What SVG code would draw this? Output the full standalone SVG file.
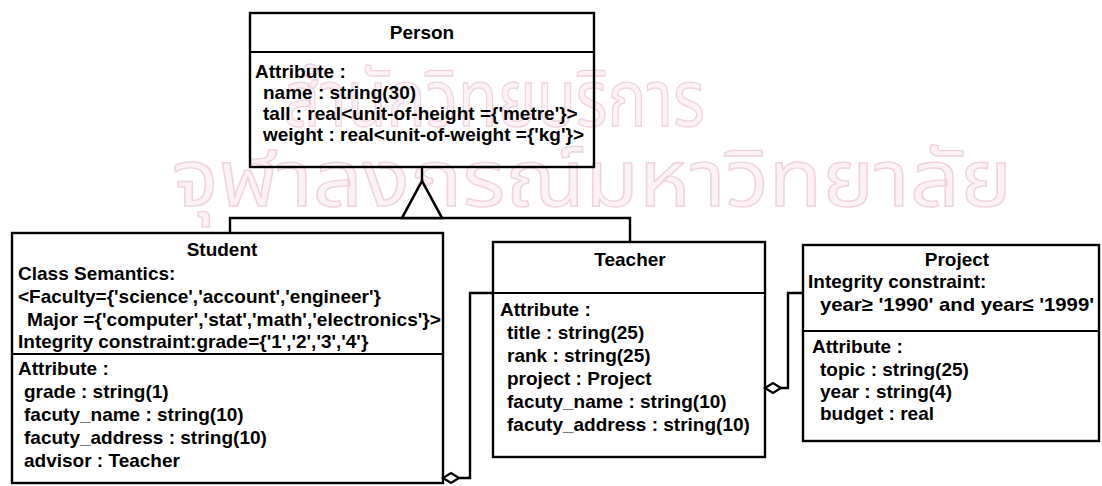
<svg xmlns="http://www.w3.org/2000/svg" width="1102" height="486" viewBox="0 0 1102 486">
  <style>
    .box { fill: none; stroke: #000000; stroke-width: 2.4; }
    .div { stroke: #000000; stroke-width: 2.2; fill: none; }
    .t { font-family: "Liberation Sans", Arial, sans-serif; font-weight: bold; font-size: 19px; fill: #000000; }
    .c { text-anchor: middle; }
    .wire { fill: none; stroke: #000000; stroke-width: 2.4; stroke-linejoin: miter; }
    .tri { fill: #ffffff; stroke: #000000; stroke-width: 2.6; stroke-linejoin: miter; }
    .dia { fill: #ffffff; stroke: #000000; stroke-width: 2.2; }
    .wm { font-family: "Noto Sans Thai", "Noto Sans", "DejaVu Sans", sans-serif; font-size: 78px; fill: #fcf2f6; stroke: #efd3df; stroke-width: 1.4; }
  </style>

  <rect x="0" y="0" width="1102" height="486" fill="#ffffff"/>

  <!-- library watermark, drawn underneath everything -->
  <g id="watermark">
    <text class="wm" x="283" y="126" textLength="422" lengthAdjust="spacingAndGlyphs">สำนักวิทยบริการ</text>
    <text class="wm" x="172" y="206" textLength="840" lengthAdjust="spacingAndGlyphs">จุฬาลงกรณ์มหาวิทยาลัย</text>
  </g>

  <!-- connectors -->
  <g id="connectors">
    <!-- generalisation: Student, Teacher -> Person -->
    <path class="wire" d="M422,167 V181"/>
    <path class="wire" d="M230,234 V218 H630 V242"/>
    <polygon class="tri" points="422,181 402,218 442,218"/>
    <!-- aggregation: Student -> Teacher -->
    <path class="wire" d="M459,478 H470 V293 H493"/>
    <polygon class="dia" points="443,478 451,473 459,478 451,483"/>
    <!-- aggregation: Teacher -> Project -->
    <path class="wire" d="M781,388 H788 V293 H803"/>
    <polygon class="dia" points="765,388 773,383 781,388 773,393"/>
  </g>

  <!-- Person -->
  <g id="person">
    <rect class="box" x="250" y="13" width="344" height="154"/>
    <line class="div" x1="250" y1="52" x2="594" y2="52"/>
    <text class="t c" x="422" y="39">Person</text>
    <text class="t" x="255" y="78">Attribute :</text>
    <text class="t" x="263" y="99">name : string(30)</text>
    <text class="t" x="263" y="120">tall : real&lt;unit-of-height ={'metre'}&gt;</text>
    <text class="t" x="263" y="141">weight : real&lt;unit-of-weight ={'kg'}&gt;</text>
  </g>

  <!-- Student -->
  <g id="student">
    <rect class="box" x="12" y="233" width="431" height="250"/>
    <line class="div" x1="12" y1="354" x2="443" y2="354"/>
    <text class="t c" x="222" y="256">Student</text>
    <text class="t" x="18" y="280">Class Semantics:</text>
    <text class="t" x="18" y="303">&lt;Faculty={'science','account','engineer'}</text>
    <text class="t" x="27" y="326" textLength="414" lengthAdjust="spacingAndGlyphs">Major ={'computer','stat','math','electronics'}&gt;</text>
    <text class="t" x="18" y="348">Integrity constraint:grade={'1','2','3','4'}</text>
    <text class="t" x="18" y="375">Attribute :</text>
    <text class="t" x="24" y="398">grade : string(1)</text>
    <text class="t" x="24" y="421">facuty_name : string(10)</text>
    <text class="t" x="24" y="444">facuty_address : string(10)</text>
    <text class="t" x="24" y="467">advisor : Teacher</text>
  </g>

  <!-- Teacher -->
  <g id="teacher">
    <rect class="box" x="493" y="242" width="272" height="215"/>
    <line class="div" x1="493" y1="293" x2="765" y2="293"/>
    <text class="t c" x="630" y="266">Teacher</text>
    <text class="t" x="500" y="316">Attribute :</text>
    <text class="t" x="507" y="339">title : string(25)</text>
    <text class="t" x="507" y="362">rank : string(25)</text>
    <text class="t" x="507" y="385">project : Project</text>
    <text class="t" x="507" y="408">facuty_name : string(10)</text>
    <text class="t" x="507" y="431">facuty_address : string(10)</text>
  </g>

  <!-- Project -->
  <g id="project">
    <rect class="box" x="803" y="245" width="296" height="196"/>
    <line class="div" x1="803" y1="331" x2="1099" y2="331"/>
    <text class="t c" x="957" y="266">Project</text>
    <text class="t" x="808" y="288">Integrity constraint:</text>
    <text class="t" x="820" y="311" textLength="274" lengthAdjust="spacingAndGlyphs">year≥ '1990' and year≤ '1999'</text>
    <text class="t" x="812" y="353">Attribute :</text>
    <text class="t" x="820" y="376">topic : string(25)</text>
    <text class="t" x="820" y="398">year : string(4)</text>
    <text class="t" x="820" y="420">budget : real</text>
  </g>
</svg>
